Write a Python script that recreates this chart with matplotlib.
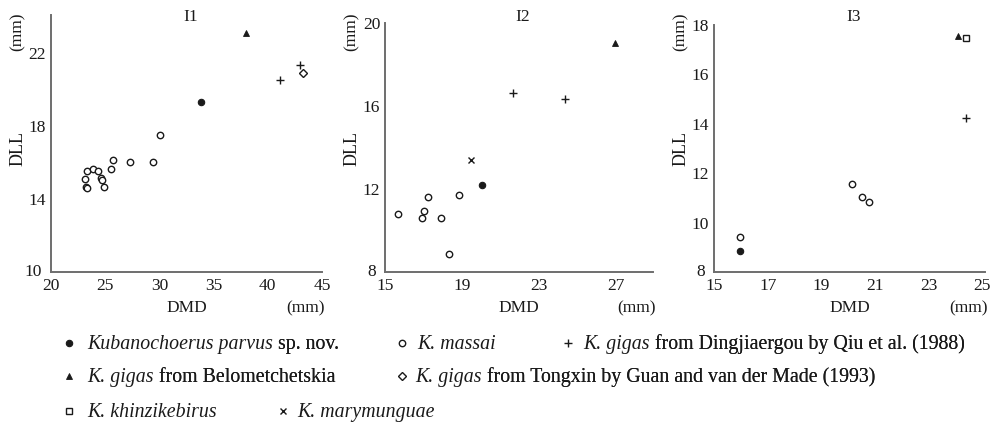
import matplotlib
matplotlib.use("Agg")
import matplotlib.pyplot as plt
import matplotlib.transforms as mtransforms
from matplotlib.lines import Line2D

plt.rcParams["font.family"] = ["Liberation Serif", "DejaVu Serif"]

# ── Data (DMD, DLL in mm) ────────────────────────────────────────────────────
# I1
i1_parvus_dmd = [33.8]
i1_parvus_dll = [19.3]
i1_massai_dmd = [23.3, 23.85, 24.35, 25.5, 25.75, 27.3, 29.4, 30.1,
                 23.15, 24.6, 24.7, 23.2, 23.3, 24.85]
i1_massai_dll = [15.55, 15.64, 15.55, 15.64, 16.15, 16.03, 16.03, 17.5,
                 15.1, 15.14, 15.05, 14.69, 14.6, 14.69]
i1_ding_dmd = [43.0, 41.1]
i1_ding_dll = [21.35, 20.55]
i1_belo_dmd = [38.0]
i1_belo_dll = [23.1]
i1_tongxin_dmd = [43.25]
i1_tongxin_dll = [20.93]

# I2
i2_parvus_dmd = [20.03]
i2_parvus_dll = [12.2]
i2_massai_dmd = [17.21, 18.83, 15.7, 17.02, 16.9, 17.92, 18.32]
i2_massai_dll = [11.6, 11.7, 10.8, 10.92, 10.58, 10.58, 8.88]
i2_ding_dmd = [21.65, 24.32]
i2_ding_dll = [16.64, 16.32]
i2_belo_dmd = [26.95]
i2_belo_dll = [19.02]
i2_mary_dmd = [19.47]
i2_mary_dll = [13.38]

# I3
i3_parvus_dmd = [15.96]
i3_parvus_dll = [8.83]
i3_massai_dmd = [20.13, 20.53, 20.76, 15.96]
i3_massai_dll = [11.56, 11.04, 10.85, 9.42]
i3_ding_dmd = [24.4]
i3_ding_dll = [14.25]
i3_belo_dmd = [24.11]
i3_belo_dll = [17.56]
i3_khinz_dmd = [24.4]
i3_khinz_dll = [17.48]

panel_titles = ["I1", "I2", "I3"]
x_ticks = [[20, 25, 30, 35, 40, 45], [15, 19, 23, 27], [15, 17, 19, 21, 23, 25]]
y_ticks = [[10, 14, 18, 22], [8, 12, 16, 20], [8, 10, 12, 14, 16, 18]]

# ── Styles ───────────────────────────────────────────────────────────────────
INK = "#1a1a1a"
SPINE = "#6e6e6e"
styles = {
    "parvus": dict(marker="o", ms=4.6, mfc=INK, mec=INK, mew=0.8),
    "massai": dict(marker="o", ms=4.6, mfc="white", mec=INK, mew=1.0),
    "ding": dict(marker="+", ms=5.5, mec=INK, mew=1.0),
    "belo": dict(marker="^", ms=5.0, mfc=INK, mec=INK, mew=0.6),
    "tongxin": dict(marker="D", ms=3.6, mfc="white", mec=INK, mew=1.0),
    "khinz": dict(marker="s", ms=4.6, mfc="white", mec=INK, mew=1.0),
    "mary": dict(marker="x", ms=4.4, mec=INK, mew=1.0),
}

W, H = 995, 423
fig = plt.figure(figsize=(W / 100, H / 100), dpi=100)


def fx(x):
    return x / W


def fy(y):
    return 1 - y / H


# axes rectangles in pixels: left, right, top, bottom
rects = [(51, 322, 15, 272), (385, 653, 23, 272), (714, 985, 25, 272)]
xlims = [(20, 45), (15, 28.9), (15, 25.1)]
ylims = [(10, 24.1), (8, 20), (8, 18)]

series = [
    [("parvus", i1_parvus_dmd, i1_parvus_dll), ("massai", i1_massai_dmd, i1_massai_dll),
     ("ding", i1_ding_dmd, i1_ding_dll), ("belo", i1_belo_dmd, i1_belo_dll),
     ("tongxin", i1_tongxin_dmd, i1_tongxin_dll)],
    [("parvus", i2_parvus_dmd, i2_parvus_dll), ("massai", i2_massai_dmd, i2_massai_dll),
     ("ding", i2_ding_dmd, i2_ding_dll), ("belo", i2_belo_dmd, i2_belo_dll),
     ("mary", i2_mary_dmd, i2_mary_dll)],
    [("parvus", i3_parvus_dmd, i3_parvus_dll), ("massai", i3_massai_dmd, i3_massai_dll),
     ("ding", i3_ding_dmd, i3_ding_dll), ("belo", i3_belo_dmd, i3_belo_dll),
     ("khinz", i3_khinz_dmd, i3_khinz_dll)],
]

for i, (l, r, t, b) in enumerate(rects):
    ax = fig.add_axes([fx(l), fy(b), (r - l) / W, (b - t) / H])
    for key, xs, ys in series[i]:
        ax.plot(xs, ys, linestyle="none", clip_on=False, **styles[key])
    ax.set_xlim(*xlims[i])
    ax.set_ylim(*ylims[i])
    ax.set_xticks(x_ticks[i])
    ax.set_yticks(y_ticks[i])
    for side in ("top", "right"):
        ax.spines[side].set_visible(False)
    for side in ("left", "bottom"):
        ax.spines[side].set_color(SPINE)
        ax.spines[side].set_linewidth(1.4)
    ax.tick_params(axis="both", length=0, labelsize=12.5, colors=INK)
    ax.tick_params(axis="x", pad=4)
    ax.tick_params(axis="y", pad=3.5)
    ax.set_facecolor("none")

    # corner label sits a bit up-left of the origin, like the original
    corner = ax.get_yticklabels()[0]
    corner.set_transform(corner.get_transform() + mtransforms.ScaledTranslation(
        -4 / 100, 2 / 100, fig.dpi_scale_trans))

    # titles
    fig.text(fx((l + r) / 2 + 4), fy(17), panel_titles[i], ha="center", va="center",
             fontsize=12.5, color=INK)
    # y labels
    fig.text(fx(l - 33), fy(148), "DLL", rotation=90, ha="center", va="center",
             fontsize=13, color=INK)
    fig.text(fx(l - 33), fy(32), "(mm)", rotation=90, ha="center", va="center",
             fontsize=12.5, color=INK)
    # x labels
    fig.text(fx((l + r) / 2), fy(308), "DMD", ha="center", va="center",
             fontsize=12.5, color=INK)
    fig.text(fx(r + 3), fy(308), "(mm)", ha="right", va="center",
             fontsize=12.5, color=INK)

# ── Legend ───────────────────────────────────────────────────────────────────
rows = [343, 376, 411]
entries = [
    ("parvus", 69, 87, 0, "Kubanochoerus parvus", "sp. nov."),
    ("massai", 402, 417, 0, "K. massai", ""),
    ("ding", 568, 583, 0, "K. gigas", "from Dingjiaergou by Qiu et al. (1988)"),
    ("belo", 69, 87, 1, "K. gigas", "from Belometchetskia"),
    ("tongxin", 402, 415, 1, "K. gigas", "from Tongxin by Guan and van der Made (1993)"),
    ("khinz", 69, 87, 2, "K. khinzikebirus", ""),
    ("mary", 283, 297, 2, "K. marymunguae", ""),
]
LEG_FS = 14.3
for key, mx, tx, row, ital, rest in entries:
    yc = rows[row]
    fig.add_artist(Line2D([fx(mx)], [fy(yc)], transform=fig.transFigure,
                          linestyle="none", **styles[key]))
    t1 = fig.text(fx(tx), fy(yc + 5.5), ital, ha="left", va="baseline",
                  fontsize=LEG_FS, style="italic", color=INK)
    if rest:
        fig.add_artist(plt.annotate(rest, xy=(1, 0), xycoords=t1, xytext=(3.8, 0),
                                    textcoords="offset points", ha="left", va="bottom",
                                    fontsize=LEG_FS, color=INK, annotation_clip=False))

fig.savefig("out.png", dpi=100)
